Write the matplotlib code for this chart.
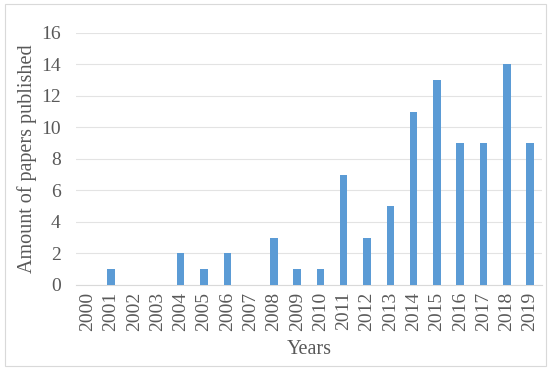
import matplotlib
matplotlib.use('Agg')
import matplotlib.pyplot as plt
from matplotlib.patches import Rectangle

years = [str(y) for y in range(2000, 2020)]
papers = [0, 1, 0, 0, 2, 1, 2, 0, 3, 1, 1, 7, 3, 5, 11, 13, 9, 9, 14, 9]
y_ticks = [0, 2, 4, 6, 8, 10, 12, 14, 16]

plt.rcParams['font.family'] = ['Liberation Serif', 'DejaVu Serif']

fig = plt.figure(figsize=(5.5, 3.7), dpi=100)
ax = fig.add_axes([0.138, 0.23, 0.847, 0.681])

# light frame around the whole chart
fig.patches.append(Rectangle((0.009, 0.011), 0.984, 0.978, transform=fig.transFigure,
                             fill=False, edgecolor='#d9d9d9', linewidth=0.8))

x = range(len(years))
ax.bar(x, papers, width=0.32, color='#5b9bd5', zorder=3)

ax.set_xlim(-0.5, len(years) - 0.5)
ax.set_ylim(0, 16)
ax.set_yticks(y_ticks)
ax.set_xticks(list(x))
ax.set_xticklabels(years, rotation=90)
ax.tick_params(axis='both', length=0, labelsize=14, colors='#595959', pad=5)
ax.tick_params(axis='y', pad=11)
ax.grid(axis='y', color='#e3e3e3', linewidth=0.8, zorder=0)
for side in ['top', 'right', 'left']:
    ax.spines[side].set_visible(False)
ax.spines['bottom'].set_color('#d9d9d9')

ax.set_xlabel('Years', fontsize=14.5, color='#595959', labelpad=6)
ax.set_ylabel('Amount of papers published', fontsize=14.5, color='#595959', labelpad=3)

fig.savefig('out.png', dpi=100)
